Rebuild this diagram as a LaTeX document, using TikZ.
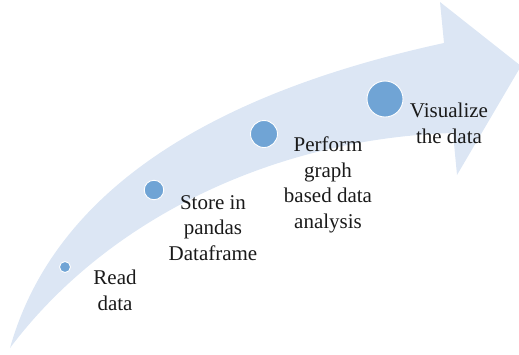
\documentclass[tikz,border=0pt]{standalone}
\usepackage{fontspec}
\setmainfont{Liberation Serif}
\definecolor{arrowblue}{RGB}{220,230,244}
\definecolor{dotblue}{RGB}{112,164,213}
\definecolor{textdark}{RGB}{26,26,26}
\begin{document}
\begin{tikzpicture}[x=1pt,y=-1pt,
  flow/.style={fill=arrowblue},
  stepdot/.style={circle, fill=dotblue, draw=white, line width=0.9pt, inner sep=0pt},
  steptext/.style={align=center, anchor=base, inner sep=0pt,
    font=\fontsize{21}{25.5}\selectfont, text=textdark}]
\useasboundingbox (0,0) rectangle (519,354);

% curved arrow body with its head
\fill[flow] (10,348) .. controls (60,170) and (250,85) .. (444,43)
  -- (440,2) -- (521,66) -- (457,175) -- (453,133)
  .. controls (280,138) and (110,215) .. (10,348) -- cycle;

% growing step markers
\node[stepdot, minimum size=11pt] (d1) at (65,267) {};
\node[stepdot, minimum size=19.5pt] (d2) at (154,190) {};
\node[stepdot, minimum size=27pt] (d3) at (264,134) {};
\node[stepdot, minimum size=36pt] (d4) at (385,99) {};

% step captions (placed by the baseline of their last line)
\node[steptext] (t1) at (115,310) {Read\\data};
\node[steptext] (t2) at (213,260) {Store in\\pandas\\Dataframe};
\node[steptext] (t3) at (328,228) {Perform\\graph\\based data\\analysis};
\node[steptext] (t4) at (449,143) {Visualize\\the data};
\end{tikzpicture}
\end{document}
